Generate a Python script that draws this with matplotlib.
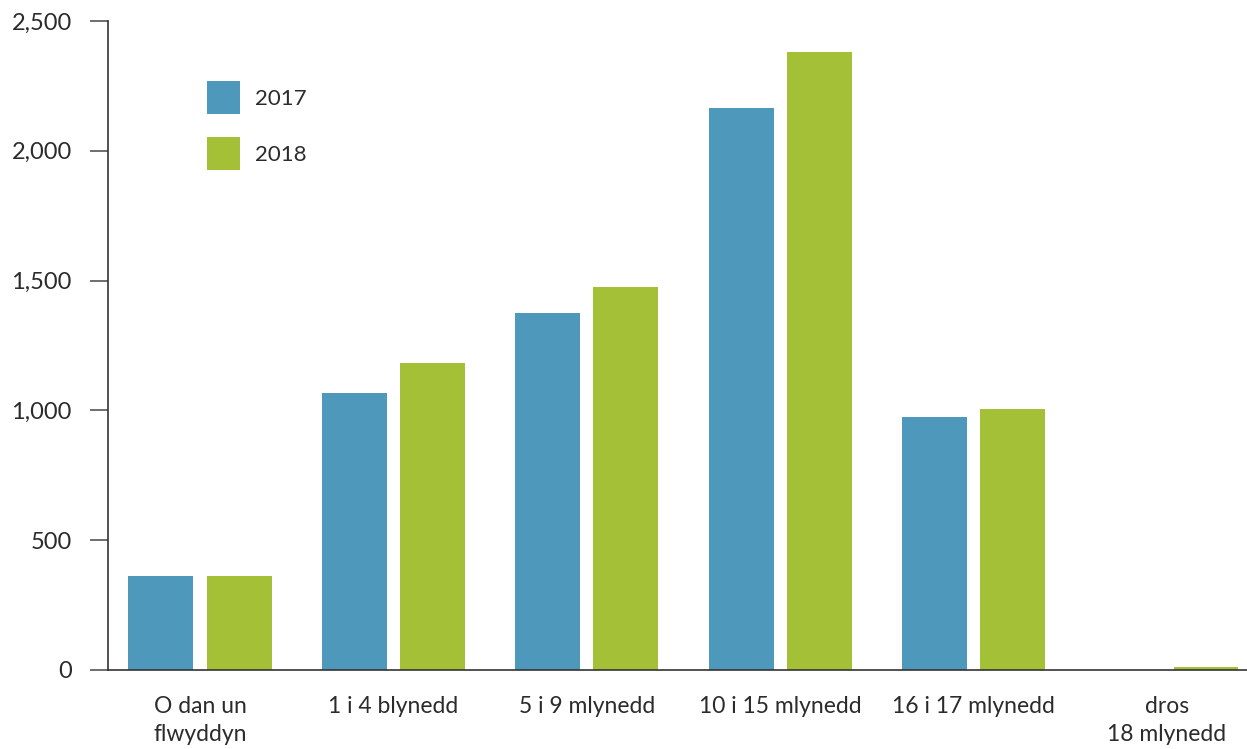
import matplotlib
matplotlib.use("Agg")
import matplotlib.pyplot as plt
import numpy as np

# Data
categories = ["O dan un\nflwyddyn", "1 i 4 blynedd", "5 i 9 mlynedd",
              "10 i 15 mlynedd", "16 i 17 mlynedd", "dros\n18 mlynedd"]
values_2017 = [362, 1067, 1375, 2165, 975, 0]
values_2018 = [362, 1183, 1475, 2381, 1005, 10]
series_labels = ["2017", "2018"]
yticks = [0, 500, 1000, 1500, 2000, 2500]

blue = "#4e98bb"
green = "#a3c037"
text_color = "#2b2b2b"

plt.rcParams['font.family'] = ['Lato', 'DejaVu Sans']

fig = plt.figure(figsize=(12.47, 7.49), dpi=100)
ax = fig.add_axes([108 / 1247, 1 - 670 / 749, 1 - 108 / 1247, (670 - 21) / 749])

x = np.arange(len(categories))
width = 0.336
offset = 0.202
ax.bar(x - offset, values_2017, width, color=blue, label=series_labels[0])
ax.bar(x + offset, values_2018, width, color=green, label=series_labels[1])

ax.set_xlim(-0.476, 5.414)
ax.set_ylim(0, 2500)
ax.set_yticks(yticks)
ax.set_yticklabels([f"{v:,}" for v in yticks])
ax.set_xticks(x)
ax.set_xticklabels(categories, linespacing=1.4)

for side in ["top", "right"]:
    ax.spines[side].set_visible(False)
for side in ["left", "bottom"]:
    ax.spines[side].set_color("#333333")
    ax.spines[side].set_linewidth(1.2)

ax.tick_params(axis="y", length=13, width=1.2, color="#555555", labelsize=17,
               labelcolor=text_color, pad=13)
ax.tick_params(axis="x", length=0, labelsize=16.5, labelcolor=text_color, pad=19)

leg = ax.legend(loc="upper left", bbox_to_anchor=(207 / 1247, 1 - 81 / 749),
                bbox_transform=fig.transFigure, frameon=False, fontsize=16,
                handlelength=1.49, handleheight=1.91, labelspacing=1.05,
                handletextpad=0.68, borderpad=0, borderaxespad=0)
for t in leg.get_texts():
    t.set_color(text_color)

fig.savefig("out.png", dpi=100)
